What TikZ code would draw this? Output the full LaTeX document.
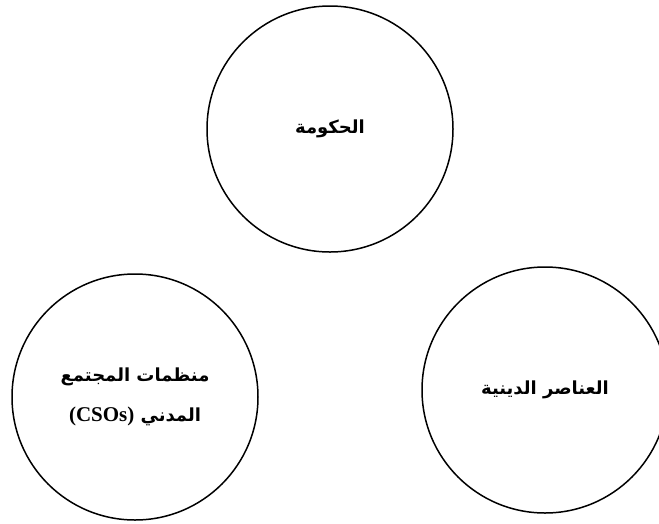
\documentclass[tikz,border=0pt]{standalone}
\usepackage{fontspec}
\newfontfamily\arabicfont[Script=Arabic]{DejaVu Sans}
\newfontfamily\latinfont{Liberation Serif}
\TeXXeTstate=1
\tikzset{
  actor/.style = {circle, draw=black, line width=1.5pt, minimum size=246pt,
                  inner sep=0pt, align=center,
                  font=\arabicfont\bfseries\fontsize{18}{40}\selectfont},
}

\begin{document}
\begin{tikzpicture}[x=1pt, y=-1pt]
\useasboundingbox (0,0) rectangle (659,523);
% three actors, no links between them
\node[actor] (gov) at (330,129) {\beginR الحكومة\endR};
\node[actor] (cso) at (135,397)
  {\beginR منظمات المجتمع\endR\\\beginR المدني \beginL{\latinfont\bfseries\fontsize{21}{40}\selectfont(CSOs)}\endL\endR};
\node[actor] (rel) at (545,390) {\beginR العناصر الدينية\endR};
\end{tikzpicture}
\end{document}
